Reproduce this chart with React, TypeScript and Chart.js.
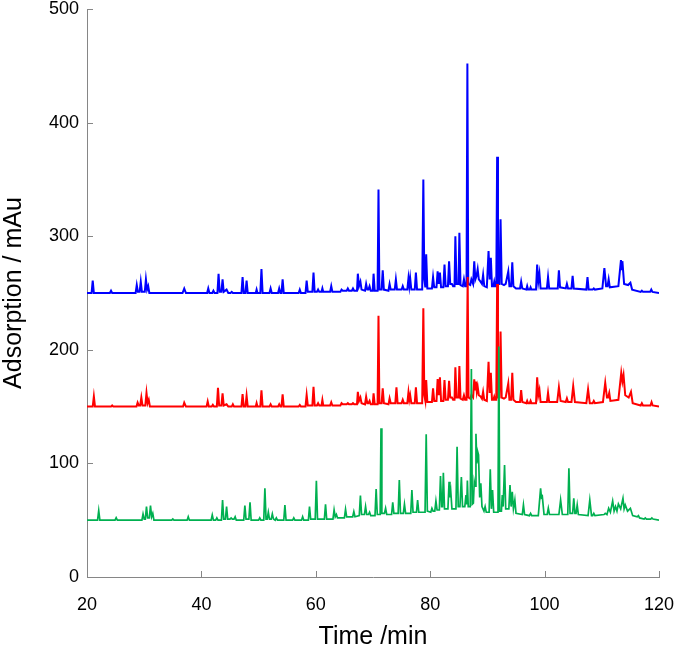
import { useEffect, useRef } from "react";
import { Chart, registerables } from "chart.js";

Chart.register(...registerables);

const xTickValues = [20, 40, 60, 80, 100, 120];
const yTickValues = [0, 100, 200, 300, 400, 500];
const xTitle = "Time /min";
const yTitle = "Adsorption / mAu";
const seriesColors = ["#0000FF", "#FF0000", "#00B050"];
const axisColor = "#868686";

// [time (min), absorbance (mAu)]
const blueTrace: [number, number][] = [
  [20, 250], [20.8, 250], [21.0, 261], [21.2, 250],
  [24.0, 250], [24.2, 252], [24.4, 250],
  [28.5, 250], [28.7, 257], [28.9, 251], [29.2, 251], [29.4, 260], [29.6, 251], [30.1, 251], [30.3, 262], [30.5, 253], [30.7, 256], [30.9, 250],
  [36.7, 250], [37.0, 254], [37.3, 250],
  [41.0, 250], [41.2, 254], [41.4, 250], [41.9, 250], [42.1, 252], [42.3, 250], [42.8, 250], [43.0, 267], [43.2, 251], [43.5, 251], [43.7, 262], [43.9, 251], [44.4, 253], [44.7, 250], [45.1, 250], [45.3, 251], [45.5, 250],
  [47.0, 250], [47.2, 264], [47.4, 250], [47.7, 250], [47.9, 261], [48.1, 250],
  [49.5, 250], [49.65, 253], [49.8, 250], [50.3, 250], [50.5, 271], [50.7, 250],
  [51.9, 250], [52.1, 254], [52.3, 250],
  [53.4, 250], [53.6, 254], [53.8, 250], [54.0, 250], [54.2, 262], [54.4, 250],
  [57.0, 250], [57.2, 253], [57.4, 250], [58.2, 250], [58.4, 261], [58.6, 251], [59.4, 251], [59.6, 268], [59.8, 251], [60.2, 251], [60.4, 253], [60.6, 251], [61.0, 251], [61.15, 254], [61.3, 251],
  [62.5, 251], [62.7, 256], [62.9, 251],
  [64.3, 251], [64.5, 253], [64.7, 252], [65.4, 252], [65.6, 254], [65.8, 252], [66.3, 252], [66.5, 254], [66.7, 252],
  [67.2, 252], [67.35, 267], [67.55, 256], [67.8, 260], [68.0, 253], [68.6, 252], [68.8, 258], [69.0, 253], [69.2, 253], [69.4, 256], [69.6, 252], [69.95, 252], [70.1, 267], [70.3, 252],
  [70.8, 252], [70.96, 341], [71.12, 253], [71.5, 253], [71.7, 270], [71.9, 253],
  [72.7, 252], [72.9, 258], [73.1, 253],
  [73.8, 253], [74.0, 262], [74.2, 253], [75.0, 253], [75.2, 256], [75.4, 253],
  [76.0, 253], [76.2, 263], [76.35, 256], [76.5, 263], [76.7, 253], [77.3, 253], [77.5, 268], [77.7, 253],
  [78.6, 253], [78.8, 350], [78.97, 262], [79.15, 255], [79.3, 284], [79.5, 254],
  [80.3, 254], [80.5, 264], [80.7, 255], [81.1, 255], [81.3, 269], [81.5, 258], [81.7, 268], [81.9, 255], [82.3, 255], [82.5, 275], [82.7, 256], [83.1, 256], [83.3, 278], [83.5, 258], [83.8, 258], [84.0, 256], [84.25, 256], [84.4, 300], [84.6, 258], [84.95, 258], [85.1, 303], [85.3, 257], [85.7, 256], [85.9, 262], [86.1, 256],
  [86.35, 256], [86.5, 452], [86.65, 258], [87.0, 257], [87.2, 262], [87.5, 258], [87.7, 278], [87.9, 262], [88.1, 265], [88.3, 271], [88.5, 262], [88.8, 260], [89.05, 258], [89.25, 266], [89.45, 256], [89.9, 255], [90.2, 287], [90.4, 262], [90.6, 281], [90.8, 256], [91.05, 256], [91.2, 260], [91.35, 256], [91.55, 256], [91.7, 370], [91.85, 258], [92.1, 258], [92.3, 315], [92.5, 258], [92.9, 257], [93.2, 258], [93.65, 269], [93.85, 256], [94.15, 256], [94.35, 277], [94.55, 256], [95.0, 254],
  [95.7, 254], [95.9, 260], [96.1, 254], [96.8, 253], [96.95, 256], [97.1, 253], [97.4, 253], [97.55, 255], [97.7, 253],
  [98.5, 253], [98.7, 275], [98.9, 260], [99.1, 267], [99.3, 254],
  [100.4, 254], [100.6, 264], [100.8, 254],
  [102.3, 254], [102.5, 270], [102.7, 255],
  [103.7, 254], [103.9, 258], [104.1, 254], [104.7, 254], [104.9, 265], [105.1, 254],
  [107.3, 253], [107.5, 264], [107.7, 253], [108.4, 253], [108.6, 254], [108.8, 253],
  [110.1, 254], [110.45, 272], [110.75, 256], [111.0, 256], [111.2, 262], [111.4, 255],
  [112.9, 256], [113.35, 279], [113.5, 270], [113.6, 278], [113.9, 258], [114.6, 257], [115.0, 259], [115.3, 253],
  [116.8, 251], [117.0, 252], [117.2, 251], [118.45, 251], [118.65, 253], [118.85, 251], [120, 250],
];

const redTrace: [number, number][] = [
  [20, 150], [21.0, 150], [21.2, 159], [21.4, 150],
  [24.2, 150], [24.4, 151], [24.6, 150],
  [28.65, 150], [28.85, 153.5], [29.05, 151], [29.3, 151], [29.5, 158], [29.7, 151], [30.2, 151], [30.4, 162], [30.6, 153], [30.8, 156], [31.0, 150],
  [36.8, 150], [37.0, 153.5], [37.3, 150],
  [40.9, 150], [41.1, 154.6], [41.3, 150], [41.8, 150], [42.0, 151.5], [42.2, 150], [42.7, 150], [42.9, 166.6], [43.1, 151], [43.5, 151], [43.7, 161.7], [43.9, 151], [44.4, 152], [44.7, 150], [45.3, 150], [45.5, 152], [45.7, 150],
  [47.0, 150], [47.2, 161], [47.4, 150], [47.7, 150], [47.9, 159.6], [48.1, 150],
  [49.5, 150], [49.65, 153], [49.8, 150], [50.3, 150], [50.5, 164.3], [50.7, 150],
  [51.9, 150], [52.1, 152], [52.3, 150],
  [53.4, 150], [53.6, 152], [53.8, 150], [54.0, 150], [54.2, 160.8], [54.4, 150],
  [57.0, 150], [57.2, 151.4], [57.4, 150], [58.2, 150], [58.4, 160.2], [58.6, 151], [59.4, 151], [59.6, 167.5], [59.8, 151], [60.2, 151], [60.4, 153], [60.6, 151], [61.0, 151], [61.15, 155.8], [61.3, 151],
  [62.5, 151], [62.7, 153.8], [62.9, 151],
  [64.3, 151], [64.5, 153], [64.7, 152], [65.4, 152], [65.6, 153], [65.8, 152], [66.3, 152], [66.5, 153], [66.7, 152],
  [67.2, 152], [67.35, 163], [67.55, 155], [67.8, 158], [68.0, 153], [68.6, 152], [68.8, 158.7], [69.0, 153], [69.2, 153], [69.4, 155], [69.6, 152], [69.95, 152], [70.1, 161.7], [70.3, 152],
  [70.8, 152], [70.96, 230], [71.12, 153], [71.5, 153], [71.7, 166], [71.9, 153],
  [72.7, 152], [72.9, 157.3], [73.1, 153],
  [73.9, 153], [74.1, 167], [74.3, 153], [75.0, 153], [75.2, 156], [75.4, 153],
  [76.0, 153], [76.2, 162.6], [76.35, 156], [76.5, 160], [76.7, 153], [77.3, 153], [77.5, 167], [77.7, 153],
  [78.6, 153], [78.8, 236.5], [78.97, 160], [79.15, 155], [79.3, 173.4], [79.5, 154],
  [80.3, 154], [80.5, 166], [80.7, 155], [81.1, 155], [81.3, 174.3], [81.5, 160], [81.7, 175.8], [81.9, 155], [82.3, 155], [82.5, 173.4], [82.7, 156], [83.1, 156], [83.3, 172.8], [83.5, 158], [83.8, 158], [84.0, 156], [84.25, 156], [84.4, 184.6], [84.6, 158], [84.95, 158], [85.1, 185.7], [85.3, 157], [85.7, 156], [85.9, 160], [86.1, 156],
  [86.35, 156], [86.55, 264], [86.7, 158], [87.0, 157], [87.2, 160], [87.5, 158], [87.7, 174], [87.85, 165], [88.0, 172], [88.15, 163], [88.3, 167.5], [88.5, 160], [88.8, 159], [89.05, 157], [89.25, 163], [89.45, 156], [89.9, 155], [90.2, 189.5], [90.4, 162], [90.6, 179.8], [90.8, 156], [91.05, 156], [91.2, 158.7], [91.35, 156], [91.55, 156], [91.7, 258], [91.85, 158], [92.1, 158], [92.3, 216], [92.5, 158], [92.9, 157], [93.2, 158], [93.65, 170.5], [93.85, 156], [94.15, 156], [94.35, 179.8], [94.55, 156], [95.0, 154],
  [95.7, 154], [95.9, 164.6], [96.1, 154], [96.8, 153], [96.95, 155], [97.1, 153], [97.4, 153], [97.55, 155], [97.7, 153],
  [98.5, 153], [98.7, 175.8], [98.9, 160], [99.1, 164.6], [99.3, 154],
  [100.4, 154], [100.6, 162.2], [100.8, 154],
  [102.2, 154], [102.5, 167], [102.8, 155],
  [103.7, 154], [103.9, 157.3], [104.1, 154], [104.7, 154], [105.0, 168], [105.3, 154],
  [107.3, 153], [107.6, 165.2], [107.9, 153], [108.4, 153], [108.6, 155], [108.8, 153],
  [110.2, 154], [110.6, 171], [110.9, 158], [111.1, 158], [111.3, 162], [111.5, 155],
  [112.9, 156], [113.4, 179.8], [113.6, 172], [113.8, 177.8], [114.1, 160], [114.7, 158], [115.1, 163], [115.4, 153],
  [116.8, 151], [117.0, 153], [117.2, 151], [118.5, 151], [118.7, 154], [118.9, 151], [120, 150],
];

const greenTrace: [number, number][] = [
  [20, 50], [21.85, 50], [22.05, 58.4], [22.25, 50],
  [24.9, 50], [25.1, 52.2], [25.3, 50],
  [29.6, 50], [29.8, 55.5], [30.0, 51], [30.2, 51], [30.4, 61.9], [30.6, 52], [30.9, 52], [31.1, 62.8], [31.3, 53], [31.5, 56], [31.7, 50],
  [34.8, 50], [35.0, 51], [35.2, 50],
  [37.5, 50], [37.7, 53], [37.9, 50],
  [41.7, 50], [41.9, 54.6], [42.1, 50], [42.5, 50], [42.7, 52], [42.9, 50], [43.5, 50], [43.7, 67.8], [43.9, 51], [44.2, 51], [44.4, 62], [44.6, 51], [45.0, 51], [45.2, 52], [45.4, 51], [45.7, 51], [45.9, 53], [46.1, 50],
  [47.4, 50], [47.6, 62.8], [47.8, 51], [48.3, 51], [48.5, 65.7], [48.7, 50],
  [50.0, 50], [50.2, 52], [50.4, 50], [50.9, 50], [51.1, 78], [51.3, 51], [51.5, 51], [51.7, 57], [51.9, 51], [52.2, 51], [52.4, 55.5], [52.6, 51], [52.9, 50], [53.1, 52], [53.3, 50],
  [54.4, 50], [54.6, 63.4], [54.8, 50],
  [55.95, 50], [56.15, 52], [56.35, 50],
  [57.5, 50], [57.7, 53], [57.9, 50], [58.7, 50], [58.9, 61.9], [59.1, 51], [59.9, 51], [60.1, 84.8], [60.3, 51],
  [61.5, 51], [61.7, 64], [61.9, 51],
  [63.0, 51], [63.2, 59], [63.4, 53], [63.6, 55], [63.8, 52],
  [65.0, 52], [65.2, 59.6], [65.4, 53], [66.45, 53], [66.65, 57.5], [66.85, 53],
  [67.6, 54], [67.8, 71.6], [68.0, 55], [68.5, 55], [68.7, 62], [68.9, 55], [69.2, 55], [69.4, 57], [69.6, 54],
  [70.35, 54], [70.55, 77.5], [70.75, 55], [71.25, 55], [71.4, 130.9], [71.55, 56], [72.0, 56], [72.2, 60.5], [72.4, 55],
  [73.25, 55], [73.45, 65.8], [73.65, 56], [74.4, 56], [74.6, 85.4], [74.8, 56], [75.3, 56], [75.5, 64], [75.7, 56],
  [76.6, 56], [76.8, 76.6], [77.0, 57], [77.6, 57], [77.8, 67.8], [78.0, 57],
  [79.1, 57], [79.3, 125.6], [79.5, 58],
  [80.1, 57], [80.3, 60.5], [80.5, 58], [80.8, 58], [81.0, 66.9], [81.2, 59], [81.6, 59], [81.8, 88.9], [82.0, 62], [82.15, 62], [82.3, 91.8], [82.5, 60], [83.1, 60], [83.3, 83.9], [83.45, 70], [83.6, 75], [83.8, 60],
  [84.5, 60], [84.7, 114.7], [84.9, 62], [85.2, 62], [85.45, 88], [85.65, 62], [86.05, 62], [86.25, 72], [86.4, 64], [86.5, 85], [86.65, 62],
  [87.0, 62], [87.2, 183], [87.35, 64], [87.55, 65], [87.7, 84], [87.85, 80], [88.0, 126], [88.15, 100], [88.3, 110.3], [88.45, 107.4], [88.65, 70], [88.85, 82.5], [89.05, 62], [89.4, 58], [89.6, 62], [89.8, 57],
  [90.3, 57], [90.5, 94.8], [90.7, 60], [90.9, 76.6], [91.1, 57],
  [91.85, 57], [92.0, 203], [92.15, 58], [92.45, 58], [92.6, 72.2], [92.75, 62], [93.0, 98.6], [93.2, 60],
  [93.75, 60], [93.95, 81], [94.15, 62], [94.35, 75], [94.55, 60], [94.8, 67.8], [95.0, 56],
  [96.1, 55], [96.3, 63.4], [96.5, 55], [97.35, 54], [97.55, 56], [97.75, 54],
  [98.9, 54], [99.3, 78], [99.45, 70], [99.6, 71], [99.9, 55],
  [100.45, 55], [100.65, 60.5], [100.85, 55],
  [102.5, 55], [102.8, 67.8], [103.1, 55],
  [104.05, 55], [104.25, 95.7], [104.45, 56], [104.9, 56], [105.1, 69.3], [105.3, 56], [105.5, 56], [105.7, 63.4], [105.9, 55],
  [107.6, 54], [107.9, 67.8], [108.2, 54], [108.4, 54], [108.6, 56], [108.8, 54],
  [110.4, 55], [110.6, 56], [110.9, 55], [111.2, 60.5], [111.5, 57], [111.9, 66.9], [112.15, 58], [112.4, 62], [112.65, 58], [112.9, 64.3], [113.3, 60], [113.7, 69.3], [113.9, 60], [114.1, 63.4], [114.5, 58], [115.0, 60.5], [115.4, 54],
  [116.2, 53], [116.4, 54], [116.6, 52], [117.4, 51], [117.6, 52], [117.8, 51], [118.55, 51], [118.75, 52], [118.95, 51], [120, 50],
];

const insideTicks = {
  id: "insideTicks",
  afterDraw(chart: any) {
    const { ctx, chartArea, scales } = chart;
    const x = scales.x;
    const y = scales.y;
    ctx.save();
    ctx.strokeStyle = axisColor;
    ctx.lineWidth = 1;
    ctx.beginPath();
    xTickValues.forEach((v) => {
      const px = Math.round(x.getPixelForValue(v)) + 0.5;
      ctx.moveTo(px, chartArea.bottom);
      ctx.lineTo(px, chartArea.bottom - 6);
    });
    yTickValues.forEach((v) => {
      const py = Math.round(y.getPixelForValue(v)) + 0.5;
      ctx.moveTo(chartArea.left, py);
      ctx.lineTo(chartArea.left + 6, py);
    });
    ctx.stroke();
    ctx.restore();
  },
};

export default function App() {
  const canvasRef = useRef<HTMLCanvasElement | null>(null);

  useEffect(() => {
    const canvas = canvasRef.current;
    if (!canvas) return;
    const font = "'Liberation Sans', Arial, sans-serif";
    const traces = [blueTrace, redTrace, greenTrace];
    const chart = new Chart(canvas, {
      type: "line",
      data: {
        datasets: traces.map((t, i) => ({
          data: t,
          borderColor: seriesColors[i],
          borderWidth: i === 2 ? 1.7 : 2,
          pointRadius: 0,
          tension: 0,
          fill: false,
          order: 3 - i,
        })),
      },
      options: {
        animation: false,
        responsive: false,
        devicePixelRatio: 1,
        layout: { padding: { top: 0, right: 0, left: 0, bottom: 0 } },
        plugins: { legend: { display: false }, tooltip: { enabled: false } },
        scales: {
          x: {
            type: "linear",
            min: 20,
            max: 120,
            afterBuildTicks: (s: any) => {
              s.ticks = xTickValues.map((v) => ({ value: v }));
            },
            afterFit: (s: any) => {
              s.height = 73;
              s.paddingLeft = 0;
              s.paddingRight = 16;
            },
            grid: { display: true, drawOnChartArea: false, drawTicks: false },
            border: { display: true, color: axisColor, width: 1 },
            ticks: {
              padding: 19,
              color: "#000",
              maxRotation: 0,
              font: { family: font, size: 18, lineHeight: 1 },
            },
            title: {
              display: true,
              text: xTitle,
              color: "#000",
              padding: { top: 0, bottom: 0 },
              font: { family: font, size: 25, lineHeight: 1 },
            },
          },
          y: {
            type: "linear",
            min: 0,
            max: 500,
            afterBuildTicks: (s: any) => {
              s.ticks = yTickValues.map((v) => ({ value: v }));
            },
            afterFit: (s: any) => {
              s.width = 87;
              s.paddingTop = 9;
              s.paddingBottom = 0;
            },
            grid: { display: true, drawOnChartArea: false, drawTicks: false },
            border: { display: true, color: axisColor, width: 1 },
            ticks: {
              padding: 8,
              color: "#000",
              font: { family: font, size: 18, lineHeight: 1 },
            },
            title: {
              display: true,
              text: yTitle,
              color: "#000",
              padding: { top: 0, bottom: 0 },
              font: { family: font, size: 25, lineHeight: 1.1 },
            },
          },
        },
      },
      plugins: [insideTicks],
    } as any);
    return () => chart.destroy();
  }, []);

  return (
    <div style={{ position: "fixed", left: 0, top: 0, width: 675, height: 650, background: "#fff" }}>
      <canvas ref={canvasRef} width={675} height={650} style={{ width: 675, height: 650 }} />
    </div>
  );
}
